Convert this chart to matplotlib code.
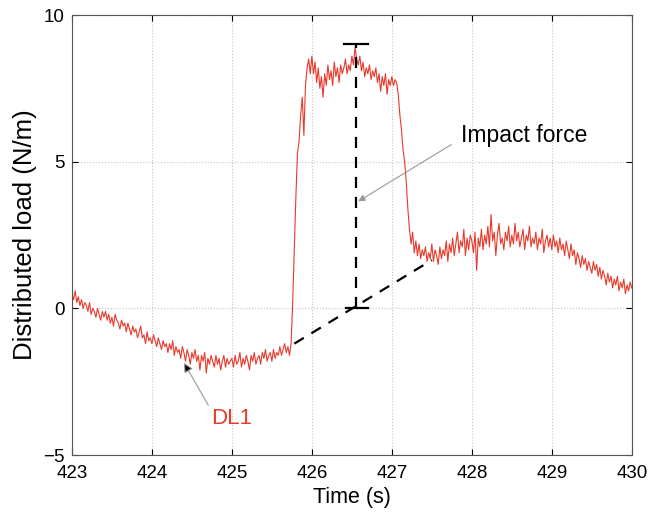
import numpy as np
import matplotlib
matplotlib.use('Agg')
from matplotlib import pyplot as plt

plt.rcParams['font.family'] = ['Liberation Sans', 'DejaVu Sans']

# distributed load DL1, sampled every 0.02 s from 423 s to 430 s
load_423 = [0.5, 0.3, 0.6, 0.2, 0.4, 0.1, 0.3, 0.0, 0.2, 0.1,
            -0.1, 0.2, -0.2, 0.0, -0.1, -0.3, 0.0, -0.2, -0.4, -0.1,
            -0.3, -0.1, -0.4, -0.2, -0.5, -0.3, -0.6, -0.2, -0.4, -0.5,
            -0.7, -0.4, -0.6, -0.5, -0.8, -0.5, -0.7, -0.9, -0.6, -0.8,
            -0.7, -1.0, -0.8, -0.6, -1.0, -0.9, -1.2, -0.8, -1.1, -1.0]
load_424 = [-1.2, -0.9, -1.1, -1.3, -1.0, -1.2, -1.4, -1.1, -1.3, -1.2,
            -1.5, -1.2, -1.4, -1.1, -1.6, -1.3, -1.5, -1.4, -1.7, -1.3,
            -1.5, -1.8, -1.4, -1.6, -1.9, -1.5, -1.7, -1.4, -1.8, -1.6,
            -2.1, -1.6, -1.8, -1.5, -2.2, -1.7, -1.9, -1.6, -1.8, -2.0,
            -1.6, -1.9, -1.7, -2.1, -1.8, -1.6, -2.0, -1.7, -1.9, -1.8]
load_425 = [-1.7, -2.0, -1.6, -1.9, -1.8, -1.5, -2.0, -1.7, -1.9, -1.6,
            -1.8, -2.1, -1.6, -1.8, -1.5, -1.9, -1.7, -1.6, -1.9, -1.5,
            -1.7, -1.4, -1.8, -1.6, -1.5, -1.8, -1.4, -1.7, -1.5, -1.6,
            -1.3, -1.6, -1.4, -1.2, -1.5, -1.3, -1.6, -1.2, 0.2, 2.0,
            3.8, 5.3, 5.7, 6.6, 7.2, 5.9, 7.6, 8.2, 8.5, 8.0]
load_426 = [8.6, 8.0, 8.4, 7.7, 8.2, 7.5, 7.9, 7.2, 8.0, 7.6,
            8.3, 7.8, 8.1, 7.6, 8.4, 7.9, 8.2, 7.7, 8.3, 8.0,
            8.2, 8.5, 8.0, 8.3, 8.1, 8.6, 8.3, 8.9, 8.5, 8.3,
            8.6, 8.1, 8.4, 7.9, 8.2, 8.0, 8.3, 7.8, 8.1, 7.9,
            8.2, 7.7, 8.0, 7.4, 7.9, 7.6, 8.0, 7.3, 7.8, 7.6]
load_427 = [7.9, 7.6, 7.8, 7.7, 7.3, 6.6, 6.1, 5.4, 5.0, 4.3,
            3.4, 2.7, 2.2, 2.6, 1.9, 2.3, 1.8, 2.2, 1.7, 2.0,
            1.8, 2.1, 1.6, 1.9, 1.7, 2.2, 1.6, 2.0, 1.8, 1.5,
            2.1, 1.7, 2.0, 1.8, 2.3, 1.6, 2.2, 1.9, 2.4, 1.8,
            2.2, 2.6, 1.9, 2.3, 2.1, 2.7, 1.8, 2.4, 2.0, 2.5]
load_428 = [2.3, 1.9, 2.6, 1.3, 2.4, 2.1, 2.7, 2.0, 2.5, 2.2,
            2.8, 2.1, 3.2, 2.3, 2.6, 1.8, 2.5, 2.9, 2.2, 2.4,
            2.0, 2.6, 2.3, 2.8, 2.1, 2.5, 2.2, 2.9, 2.3, 2.6,
            2.1, 2.4, 2.7, 2.0, 2.5, 2.3, 2.8, 2.1, 2.4, 2.2,
            2.6, 2.0, 2.4, 2.2, 2.7, 1.9, 2.3, 2.5, 2.1, 2.4]
load_429 = [2.0, 2.5, 2.1, 2.3, 1.9, 2.4, 2.0, 2.2, 1.8, 2.3,
            2.0, 1.7, 2.2, 1.8, 2.0, 1.5, 1.9, 1.7, 1.4, 1.8,
            1.5, 1.7, 1.3, 1.6, 1.4, 1.2, 1.6, 1.3, 1.5, 1.1,
            1.4, 1.0, 1.3, 1.1, 0.8, 1.2, 0.9, 1.1, 0.7, 1.0,
            0.8, 1.1, 0.6, 0.9, 0.7, 1.0, 0.5, 0.8, 0.6, 0.9]
load_430 = [0.7]

load = load_423 + load_424 + load_425 + load_426 + load_427 + load_428 + load_429 + load_430
time = np.linspace(423, 430, len(load))

# baseline and impact force marker
base_t = [425.78, 427.5]
base_y = [-1.2, 1.65]
impact_t = 426.55
impact_lo = 0.0
impact_hi = 9.0

fig = plt.figure(figsize=(6.48, 5.19), dpi=100)
ax = fig.add_axes([0.111, 0.123, 0.864, 0.848])

ax.plot(time, load, color='#e8392b', linewidth=0.8)
ax.plot(base_t, base_y, color='k', linestyle=(0, (5, 4)), linewidth=1.6)
ax.plot([impact_t, impact_t], [impact_lo, impact_hi], color='k', linestyle=(0, (5, 4)), linewidth=1.6)
ax.plot([impact_t - 0.15, impact_t + 0.15], [impact_hi, impact_hi], color='k', linewidth=1.6)
ax.plot([impact_t - 0.12, impact_t + 0.15], [impact_lo, impact_lo], color='k', linewidth=1.6)

ax.annotate('Impact force', xy=(426.58, 3.65), xytext=(427.87, 5.9),
            fontsize=16.5, va='center', ha='left',
            arrowprops=dict(arrowstyle='-|>', color='#999999', lw=0.8,
                            shrinkA=0, shrinkB=0, mutation_scale=10,
                            relpos=(-0.08, 0.1)))
ax.annotate('DL1', xy=(424.4, -1.85), xytext=(424.74, -3.75),
            fontsize=16, color='#e8392b', va='center', ha='left',
            arrowprops=dict(arrowstyle='-|>', ec='#999999', fc='k', lw=0.8,
                            shrinkA=0, shrinkB=0, mutation_scale=14,
                            relpos=(0.0, 0.9)))

ax.set_xlim(423, 430)
ax.set_ylim(-5, 10)
ax.set_xticks(range(423, 431))
ax.set_yticks([-5, 0, 5, 10])
ax.grid(True, color='#c4c4c4', linestyle=':', linewidth=0.8)
ax.tick_params(direction='in', top=True, right=True, labelsize=13.5, length=4)
ax.tick_params(axis='x', pad=7)
ax.tick_params(axis='y', pad=5)
for s in ax.spines.values():
    s.set_color('#555555')
    s.set_linewidth(0.8)
ax.set_xlabel('Time (s)', fontsize=15.5, labelpad=4)
ax.set_ylabel('Distributed load (N/m)', fontsize=18.5, labelpad=5)

fig.savefig('out.png', dpi=100)
